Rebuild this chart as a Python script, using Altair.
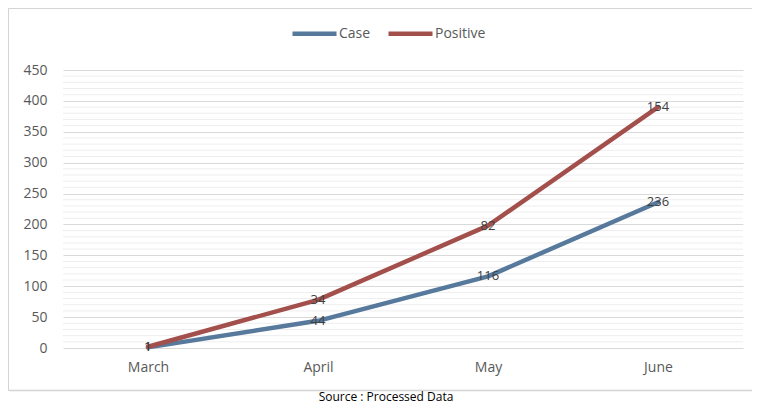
import altair as alt
import pandas as pd

months = ["March", "April", "May", "June"]
case = [1, 44, 116, 236]
positive = [1, 34, 82, 154]
series = ["Case", "Positive"]
colors = ["#56799c", "#a3504d"]
y_ticks = [0, 50, 100, 150, 200, 250, 300, 350, 400, 450]
minor_ticks = [v for v in range(0, 451, 10) if v % 50]
source_text = ["Source : Processed Data"]

rows = []
for m, c, p in zip(months, case, positive):
    rows.append({"month": m, "series": "Case", "top": c, "label": c})
    rows.append({"month": m, "series": "Positive", "top": c + p, "label": p})
df = pd.DataFrame(rows)

FONT = "Open Sans"
W, H = 680, 278

y_axis = alt.Axis(values=y_ticks, title=None, grid=True, gridColor="#d9d9d9",
                  domain=False, ticks=False, labelPadding=16, labelFontSize=14,
                  labelColor="#595959", labelFont=FONT)
y_scale = alt.Scale(domain=[0, 450], nice=False)

x_enc = alt.X("month:N", sort=months, scale=alt.Scale(type="point", padding=0.5),
              axis=alt.Axis(title=None, labelFontSize=14, labelColor="#595959",
                            ticks=False, domain=False, labelPadding=12, grid=False,
                            labelAngle=0, labelFont=FONT))

one = pd.DataFrame({"a": [0]})
frame_color = "#d4d4d4"
frame_left = alt.Chart(one).mark_rule(color=frame_color, strokeWidth=1).encode(
    x=alt.value(-54.5), y=alt.value(-61.5), y2=alt.value(320.5))
frame_top = alt.Chart(one).mark_rule(color=frame_color, strokeWidth=1).encode(
    x=alt.value(-54.5), x2=alt.value(689), y=alt.value(-61.5))
frame_bottom = alt.Chart(one).mark_rule(color=frame_color, strokeWidth=1.5).encode(
    x=alt.value(-54.5), x2=alt.value(689), y=alt.value(320.5))

minor = alt.Chart(pd.DataFrame({"v": minor_ticks})).mark_rule(
    color="#eeeeee", strokeWidth=1
).encode(y=alt.Y("v:Q", scale=y_scale, axis=y_axis))

base = alt.Chart(df)
lines = base.mark_line(strokeWidth=4.5, strokeCap="round", strokeJoin="round").encode(
    x=x_enc,
    y=alt.Y("top:Q", scale=y_scale, axis=y_axis),
    color=alt.Color("series:N", scale=alt.Scale(domain=series, range=colors),
                    legend=alt.Legend(orient="none", legendX=227, legendY=-61,
                                      direction="horizontal", title=None,
                                      symbolType="stroke", symbolSize=1936,
                                      symbolStrokeWidth=4.5, labelFontSize=14,
                                      labelColor="#595959", labelFont=FONT,
                                      labelOffset=0, columnPadding=8, padding=0)),
    detail="series:N",
)

labels = base.mark_text(fontSize=13, color="#404040", font=FONT, baseline="middle").encode(
    x=x_enc,
    y=alt.Y("top:Q", scale=y_scale, axis=y_axis),
    text="label:Q",
)

src = alt.Chart(pd.DataFrame({"t": source_text})).mark_text(
    fontSize=12, color="#000000", font=FONT, baseline="alphabetic", align="center"
).encode(x=alt.value(323), y=alt.value(331), text="t:N")

chart = alt.layer(frame_left, frame_top, frame_bottom, minor, lines, labels, src).properties(
    width=W, height=H,
    autosize=alt.AutoSizeParams(type="none"),
    padding={"left": 55, "top": 62, "right": 9, "bottom": 57},
).configure_view(strokeWidth=0)

chart.save("out.html", embed_options={"renderer": "svg", "actions": False})
